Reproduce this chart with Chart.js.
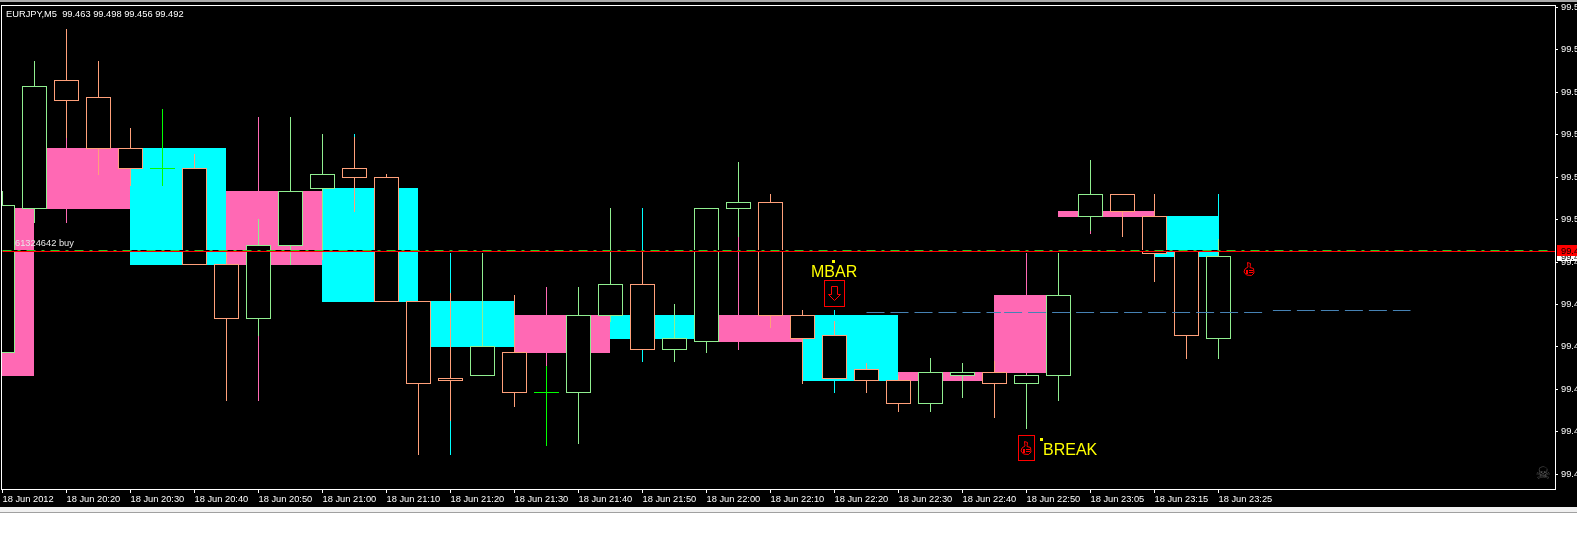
<!DOCTYPE html>
<html>
<head>
<meta charset="utf-8">
<title>EURJPY,M5</title>
<style>
  html, body { margin: 0; padding: 0; background: #fff; }
  canvas {
    display: block;
    background: linear-gradient(#a8a8a8 0 2px, #000 2px 507px, #f0f0f0 507px 512px, #a0a0a0 512px 513px, #fff 513px);
  }
</style>
<script src="https://cdn.jsdelivr.net/npm/chart.js@4/dist/chart.umd.min.js"></script>
</head>
<body>
<canvas id="myChart" width="1577" height="540"></canvas>
<script>
/** DATA **/
const timeLabels = ['18 Jun 2012', '18 Jun 20:20', '18 Jun 20:30', '18 Jun 20:40', '18 Jun 20:50',
  '18 Jun 21:00', '18 Jun 21:10', '18 Jun 21:20', '18 Jun 21:30', '18 Jun 21:40', '18 Jun 21:50',
  '18 Jun 22:00', '18 Jun 22:10', '18 Jun 22:20', '18 Jun 22:30', '18 Jun 22:40', '18 Jun 22:50',
  '18 Jun 23:05', '18 Jun 23:15', '18 Jun 23:25'];
const priceTicks = [99.580, 99.565, 99.550, 99.535, 99.520, 99.505, 99.490, 99.475, 99.460, 99.445, 99.430, 99.415];

const opens = [99.458, 99.509, 99.554, 99.548, 99.530, 99.523, 99.523, 99.489, 99.470, 99.496,
  99.516, 99.523, 99.520, 99.476, 99.449, 99.450, 99.458, 99.444, 99.444, 99.471,
  99.482, 99.459, 99.462, 99.509, 99.511, 99.471, 99.464, 99.452, 99.448, 99.440,
  99.450, 99.451, 99.447, 99.450, 99.506, 99.514, 99.506, 99.494, 99.463];
const closes = [99.510, 99.552, 99.547, 99.530, 99.523, 99.523, 99.489, 99.470, 99.496, 99.515,
  99.521, 99.520, 99.476, 99.447, 99.448, 99.460, 99.444, 99.444, 99.471, 99.482,
  99.459, 99.463, 99.509, 99.511, 99.471, 99.463, 99.449, 99.448, 99.440, 99.451,
  99.451, 99.447, 99.450, 99.478, 99.514, 99.508, 99.493, 99.464, 99.492];
const highs = [99.515, 99.561, 99.572, 99.561, 99.537, 99.544, 99.528, 99.494, 99.505, 99.541,
  99.535, 99.534, 99.521, 99.476, 99.479, 99.493, 99.478, 99.453, 99.481, 99.509,
  99.494, 99.475, 99.509, 99.525, 99.514, 99.473, 99.469, 99.454, 99.450, 99.456,
  99.454, 99.455, 99.450, 99.493, 99.526, 99.514, 99.514, 99.494, 99.498];
const lows = [99.458, 99.504, 99.534, 99.521, 99.517, 99.517, 99.489, 99.441, 99.464, 99.489,
  99.491, 99.508, 99.476, 99.422, 99.434, 99.450, 99.439, 99.425, 99.426, 99.469,
  99.459, 99.455, 99.458, 99.499, 99.467, 99.447, 99.449, 99.444, 99.437, 99.437,
  99.442, 99.435, 99.431, 99.441, 99.501, 99.499, 99.483, 99.456, 99.456];

// second wick colour showing behind some bars
const underBars = [2, 8, 11, 14, 17, 20, 23, 26, 32, 34, 38];
const underHighs = [99.534, 99.541, 99.535, 99.493, 99.481, 99.509, 99.499, 99.473, 99.493, 99.501, 99.514];
const underLows = [99.504, 99.441, 99.534, 99.422, 99.453, 99.455, 99.459, 99.444, 99.450, 99.500, 99.498];
const underKinds = ['p', 'p', 'c', 'c', 'p', 'c', 'p', 'c', 'p', 'p', 'c'];

// pink / cyan boxes
const boxFrom = [0, 1, 4, 7, 10, 13, 16, 19, 22, 25, 28, 31, 33, 36];
const boxTo = [1, 4, 7, 10, 13, 16, 19, 22, 25, 28, 31, 33, 36, 38];
const boxTops = [99.509, 99.530, 99.530, 99.515, 99.516, 99.476, 99.471, 99.471, 99.471, 99.471, 99.451, 99.478, 99.508, 99.506];
const boxBottoms = [99.450, 99.509, 99.489, 99.489, 99.476, 99.460, 99.458, 99.463, 99.462, 99.448, 99.448, 99.451, 99.506, 99.492];
const boxKinds = ['p', 'p', 'c', 'p', 'c', 'c', 'p', 'c', 'p', 'c', 'p', 'p', 'p', 'c'];

const askPrice = 99.4938;
const orderPrice = 99.4942;
const blueLine = [[27, 99.472], [31.2, 99.472], null, [31.3, 99.4723], [39.55, 99.4723], null, [39.7, 99.4727], [44, 99.4727]];

const PINK = '#ff69b4', CYAN = '#00ffff', UP = '#90ee90', DOWN = '#ffa07a', DOJI = '#00ff00';
const kindColor = k => (k === 'p' ? PINK : CYAN);
const candleColor = i => (opens[i] === closes[i] ? DOJI : (closes[i] > opens[i] ? UP : DOWN));

/** DATASETS **/
const BAR_PX = 32;
const datasets = [];

boxFrom.forEach((from, i) => {
  datasets.push({
    type: 'bar', order: 50, grouped: false, inflateAmount: 0,
    barThickness: (boxTo[i] - from) * BAR_PX,
    backgroundColor: kindColor(boxKinds[i]),
    data: [{ x: (from + boxTo[i]) / 2 - 1 / 64, y: [boxBottoms[i], boxTops[i]] }]
  });
});
datasets.push({
  type: 'bar', order: 40, grouped: false, inflateAmount: 0, barThickness: 1,
  backgroundColor: underKinds.map(kindColor),
  data: underBars.map((b, i) => ({ x: b, y: [underLows[i], underHighs[i]] }))
});
datasets.push({
  type: 'bar', order: 30, grouped: false, inflateAmount: 0, barThickness: 1,
  backgroundColor: opens.map((o, i) => candleColor(i)),
  data: opens.map((o, i) => ({ x: i, y: [lows[i], highs[i]] }))
});
datasets.push({
  type: 'bar', order: 20, grouped: false, inflateAmount: 0, barThickness: 25,
  borderWidth: 1, borderSkipped: false,
  backgroundColor: '#000',
  borderColor: opens.map((o, i) => candleColor(i)),
  data: opens.map((o, i) => ({ x: i, y: [Math.min(o, closes[i]), Math.max(o, closes[i])] }))
});

function lineSet(points, color, dash, order) {
  return {
    type: 'line', yAxisID: 'yLine', order: order,
    borderColor: color, borderWidth: 1, borderDash: dash, pointRadius: 0, tension: 0,
    spanGaps: false,
    data: points.map(p => (p ? { x: p[0], y: p[1] } : { x: null, y: null }))
  };
}
datasets.push(lineSet([[0, orderPrice], [48.3, orderPrice]], '#000', [], 13));
datasets.push(lineSet([[0, orderPrice], [48.3, orderPrice]], '#22cc22', [9, 6, 3, 6], 12));
datasets.push(lineSet([[0, askPrice], [48.6, askPrice]], '#ff0000', [], 10));
datasets.push(lineSet(blueLine, '#4682b4', [18, 6], 11));

/** PLUGINS **/
const snapPixels = {
  id: 'snapPixels',
  afterLayout(chart) {
    const { y, yLine } = chart.scales;
    const proto = Object.getPrototypeOf(y).getPixelForValue;
    y.getPixelForValue = v => Math.floor(proto.call(y, v));
    yLine.getPixelForValue = v => Math.floor(proto.call(yLine, v)) + 0.5;
  },
  afterDatasetsUpdate(chart) {
    chart.getSortedVisibleDatasetMetas().forEach(meta => {
      if (meta.type === 'bar') meta.data.forEach(el => { el.base += 1; });
    });
  }
};

function drawThumb(ctx, cx, cy) {
  ctx.save();
  ctx.translate(cx, cy);
  ctx.strokeStyle = '#f00';
  ctx.fillStyle = '#f00';
  ctx.lineWidth = 1;
  ctx.beginPath();
  ctx.moveTo(-1.5, -6.5);
  ctx.lineTo(1.5, -5.5);
  ctx.lineTo(1, -1.5);
  ctx.lineTo(4.5, -0.5);
  ctx.lineTo(5, 4);
  ctx.lineTo(2.5, 6.5);
  ctx.lineTo(-2.5, 6);
  ctx.lineTo(-5, 3);
  ctx.lineTo(-4, 0);
  ctx.lineTo(-1, -2);
  ctx.closePath();
  ctx.stroke();
  ctx.fillRect(-3, 1, 2, 4);
  ctx.fillRect(0, 1, 4, 1);
  ctx.fillRect(0, 3, 4, 1);
  ctx.restore();
}

const overlay = {
  id: 'overlay',
  afterDraw(chart) {
    const ctx = chart.ctx;
    ctx.save();
    // frame
    ctx.strokeStyle = '#fff';
    ctx.lineWidth = 1;
    ctx.strokeRect(1.5, 5.5, 1554, 484);

    ctx.textBaseline = 'alphabetic';
    ctx.textAlign = 'left';
    ctx.font = '9.3px "Liberation Sans"';
    ctx.fillStyle = '#fff';
    ctx.fillText('EURJPY,M5  99.463 99.498 99.456 99.492', 6, 17);
    ctx.fillStyle = '#e8e8e8';
    ctx.fillText('61324642 buy', 15, 246);

    // axis price boxes
    ctx.fillStyle = '#fff';
    ctx.fillRect(1557, 251, 20, 10);
    ctx.fillStyle = '#000';
    ctx.fillText('99.492', 1561, 260);
    ctx.fillStyle = '#f00';
    ctx.fillRect(1557, 245, 20, 11);
    ctx.fillStyle = '#000';
    ctx.fillText('99.494', 1561, 254);

    // labels
    ctx.fillStyle = '#ff0';
    ctx.font = '16px "Liberation Sans"';
    ctx.fillText('MBAR', 811, 277);
    ctx.fillText('BREAK', 1043, 455);
    ctx.fillRect(832, 260, 3, 3);
    ctx.fillRect(1040, 438, 3, 3);

    // marker boxes
    ctx.strokeStyle = '#f00';
    ctx.strokeRect(824.5, 280.5, 20, 26);
    ctx.strokeRect(1018.5, 435.5, 16, 25);

    // hollow down arrow
    ctx.beginPath();
    ctx.moveTo(831.5, 286.5);
    ctx.lineTo(837.5, 286.5);
    ctx.lineTo(837.5, 294.5);
    ctx.lineTo(840.5, 294.5);
    ctx.lineTo(834.5, 300.5);
    ctx.lineTo(828.5, 294.5);
    ctx.lineTo(831.5, 294.5);
    ctx.closePath();
    ctx.stroke();

    drawThumb(ctx, 1026, 448);
    drawThumb(ctx, 1249, 269);

    // skull
    ctx.fillStyle = '#5a5a5a';
    ctx.font = '17px "DejaVu Sans"';
    ctx.textAlign = 'center';
    ctx.fillText('\u2620', 1543, 479);
    ctx.restore();
  }
};

/** CHART **/
const config = {
  data: { datasets: datasets },
  options: {
    responsive: false,
    animation: false,
    events: [],
    layout: { padding: { left: 2, top: 6, right: 0, bottom: 0 } },
    plugins: { legend: { display: false }, tooltip: { enabled: false } },
    scales: {
      x: {
        type: 'linear',
        position: 'bottom',
        offset: false,
        min: -1 / 64,
        max: 48.515625,
        border: { display: false },
        grid: { offset: false, drawOnChartArea: false, color: '#fff', tickLength: 4, tickWidth: 1 },
        afterBuildTicks(s) { s.ticks = timeLabels.map((t, i) => ({ value: i * 2 })); },
        afterFit(s) { s.height = 51; s.paddingLeft = 0; s.paddingRight = 0; },
        ticks: {
          color: '#fff',
          font: { family: '"Liberation Sans"', size: 9.3 },
          padding: 1,
          align: 'start',
          autoSkip: false,
          maxRotation: 0,
          callback: v => timeLabels[v / 2]
        }
      },
      y: {
        position: 'right',
        min: 99.40979,
        max: 99.58046,
        border: { display: false },
        grid: { drawOnChartArea: false, color: '#fff', tickLength: 3, tickWidth: 1 },
        afterBuildTicks(s) { s.ticks = priceTicks.map(v => ({ value: v })); },
        afterFit(s) { s.width = 22; s.paddingTop = 0; s.paddingBottom = 0; },
        ticks: {
          color: '#fff',
          font: { family: '"Liberation Sans"', size: 9.3 },
          padding: 3,
          autoSkip: false,
          callback: v => v.toFixed(3)
        }
      },
      yLine: {
        display: false,
        min: 99.40979,
        max: 99.58046
      }
    }
  },
  plugins: [snapPixels, overlay]
};

var myChart = new Chart(document.getElementById('myChart'), config);
</script>
</body>
</html>
